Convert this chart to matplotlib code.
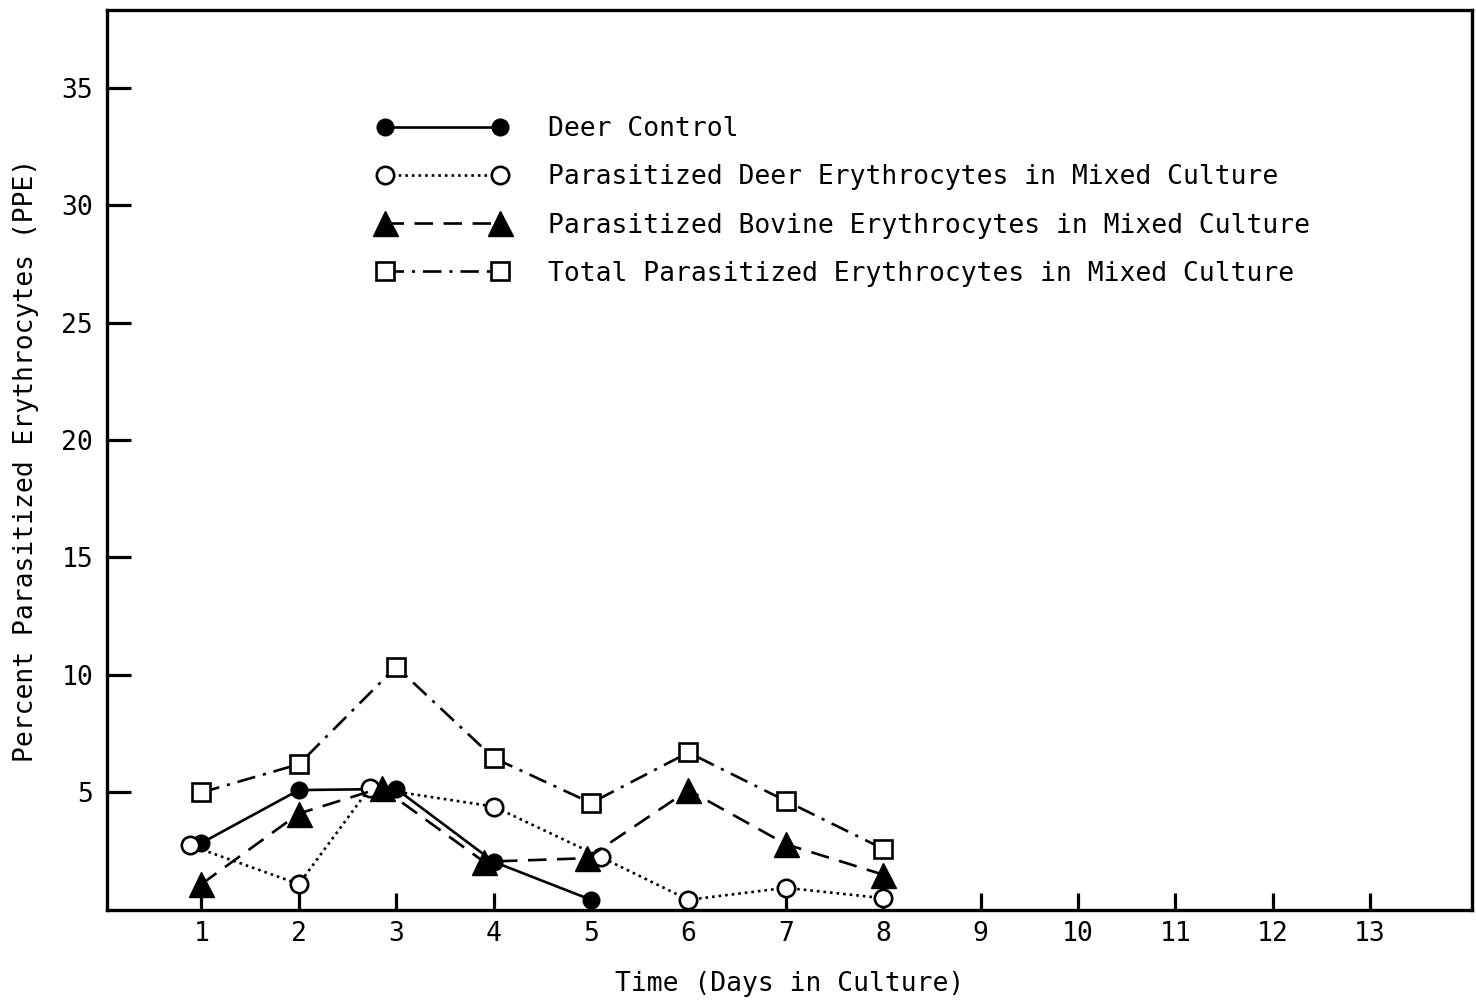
import numpy as np
import matplotlib.pyplot as plt

plt.rcParams['font.family'] = ['DejaVu Sans Mono']

# days and percent parasitized erythrocytes
days_dc = [1, 2, 3, 4, 5]
deer_control = [2.85, 5.1, 5.15, 2.05, 0.43]

days_pd = [0.88, 2, 2.73, 4, 5.1, 6, 7, 8]
par_deer = [2.75, 1.1, 5.2, 4.4, 2.25, 0.43, 0.94, 0.5]

days_pb = [1, 2, 2.85, 3.9, 4.96, 6, 7, 8]
par_bovine = [1.1, 4.1, 5.2, 2.05, 2.2, 5.1, 2.8, 1.5]

days_tot = [1, 2, 3, 4, 5, 6, 7, 8]
total = [5.0, 6.2, 10.35, 6.47, 4.55, 6.7, 4.64, 2.6]

xticks = list(range(1, 14))
yticks = [5, 10, 15, 20, 25, 30, 35]

fig = plt.figure(figsize=(14.76, 10.01), dpi=100)
ax = fig.add_axes([0.0725, 0.091, 0.925, 0.899])

lw = 1.9
ax.plot(days_dc, deer_control, color='black', lw=lw, ls='-',
        marker='o', ms=12, mfc='black', mec='black',
        label='Deer Control')
ax.plot(days_pd, par_deer, color='black', lw=lw, ls=(0, (1, 1.5)),
        marker='o', ms=12.5, mfc='white', mec='black', mew=1.9,
        label='Parasitized Deer Erythrocytes in Mixed Culture')
ax.plot(days_pb, par_bovine, color='black', lw=lw, ls=(0, (7, 4)),
        marker='^', ms=18, mfc='black', mec='black',
        label='Parasitized Bovine Erythrocytes in Mixed Culture')
ax.plot(days_tot, total, color='black', lw=lw, ls=(0, (7, 3, 1.2, 3)),
        marker='s', ms=13, mfc='white', mec='black', mew=1.9,
        label='Total Parasitized Erythrocytes in Mixed Culture')

ax.set_xlim(0.03, 14.05)
ax.set_ylim(0, 38.3)
ax.set_xticks(xticks)
ax.set_yticks(yticks)
ax.tick_params(axis='both', direction='in', width=2.3, labelsize=19)
ax.tick_params(axis='y', length=17, pad=10)
ax.tick_params(axis='x', length=12, pad=8)
for s in ax.spines.values():
    s.set_linewidth(2.4)

ax.set_xlabel('Time (Days in Culture)', fontsize=19, labelpad=17)
ax.set_ylabel('Percent Parasitized Erythrocytes (PPE)', fontsize=19, labelpad=16)

ax.legend(loc='upper left', bbox_to_anchor=(0.198, 0.882), frameon=False,
          fontsize=19, numpoints=2, handlelength=4.96, handletextpad=1.5,
          labelspacing=0.84, borderpad=0, borderaxespad=0)

fig.savefig('out.png', dpi=100)
